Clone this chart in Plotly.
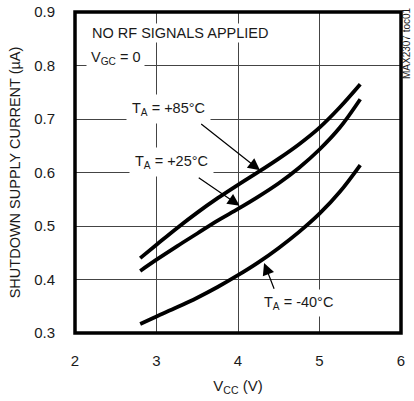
import plotly.graph_objects as go

# Supply voltage (V) sample points
vcc = [2.8, 3.0, 3.25, 3.5, 3.75, 4.0, 4.25, 4.5, 4.75, 5.0, 5.25, 5.5]

# Shutdown supply current (uA) at each ambient temperature
i_85 = [0.440, 0.465, 0.496, 0.525, 0.552, 0.577, 0.601, 0.626, 0.653, 0.684, 0.722, 0.765]
i_25 = [0.416, 0.437, 0.462, 0.486, 0.510, 0.532, 0.555, 0.580, 0.609, 0.643, 0.684, 0.737]
i_m40 = [0.317, 0.331, 0.348, 0.366, 0.386, 0.408, 0.432, 0.459, 0.489, 0.523, 0.564, 0.614]

x_ticks = [2, 3, 4, 5, 6]
y_ticks = [0.3, 0.4, 0.5, 0.6, 0.7, 0.8, 0.9]

FONT = "Liberation Sans, Arial, sans-serif"
INK = "#1a1a1a"

fig = go.Figure()
for ys in (i_85, i_25, i_m40):
    fig.add_trace(go.Scatter(
        x=vcc, y=ys, mode="lines",
        line=dict(color="black", width=3.8, shape="spline", smoothing=1.0),
        showlegend=False, hoverinfo="skip",
    ))

fig.update_layout(
    width=414, height=401,
    margin=dict(l=75, r=13, t=12, b=68),
    paper_bgcolor="white", plot_bgcolor="white",
    font=dict(family=FONT, size=14, color=INK),
    showlegend=False,
    xaxis=dict(
        range=[2, 6], tickvals=x_ticks, ticktext=[str(v) for v in x_ticks],
        showgrid=True, gridcolor="#444", gridwidth=1, zeroline=False,
        ticks="", ticklabelstandoff=17, automargin=False,
        tickfont=dict(size=15),
        title=dict(text="V<sub>CC</sub> (V)", font=dict(size=15), standoff=12),
    ),
    yaxis=dict(
        range=[0.3, 0.9], tickvals=y_ticks, ticktext=[f"{v:.1f}" for v in y_ticks],
        showgrid=True, gridcolor="#444", gridwidth=1, zeroline=False,
        ticks="", ticklabelstandoff=19, automargin=False,
        tickfont=dict(size=15),
        title=dict(text="SHUTDOWN SUPPLY CURRENT (µA)", font=dict(size=14.5), standoff=10),
    ),
)

# Heavy frame around the plotting area
fig.add_shape(type="rect", xref="paper", yref="paper", x0=0, y0=0, x1=1, y1=1,
              line=dict(color="black", width=3.5), layer="above")

labels = [
    dict(x=2.184, y=0.861, text="NO RF SIGNALS APPLIED", xanchor="left", pad=1),
    dict(x=2.13, y=0.814, text="V<sub>GC</sub> = 0", xanchor="left", pad=4),
    dict(x=3.15, y=0.718, text="T<sub>A</sub> = +85°C", xanchor="center", pad=5),
    dict(x=3.18, y=0.619, text="T<sub>A</sub> = +25°C", xanchor="center", pad=5),
    dict(x=4.74, y=0.356, text="T<sub>A</sub> = -40°C", xanchor="center", pad=4),
]
for lb in labels:
    fig.add_annotation(x=lb["x"], y=lb["y"], xref="x", yref="y", text=lb["text"],
                       xanchor=lb["xanchor"], yanchor="middle", showarrow=False,
                       bgcolor="white", borderpad=lb["pad"],
                       font=dict(family=FONT, size=14.5, color=INK))

# Leader arrows from each label to its curve
arrows = [
    dict(tail=(3.53, 0.693), head=(4.27, 0.604)),
    dict(tail=(3.50, 0.592), head=(4.02, 0.538)),
    dict(tail=(4.45, 0.380), head=(4.32, 0.431)),
]
for a in arrows:
    fig.add_annotation(x=a["head"][0], y=a["head"][1], ax=a["tail"][0], ay=a["tail"][1],
                       xref="x", yref="y", axref="x", ayref="y", text="",
                       showarrow=True, arrowhead=2, arrowsize=2.0, arrowwidth=1.2,
                       arrowcolor="black", standoff=0, startstandoff=0)

# Figure ID tag along the right edge
fig.add_annotation(x=1.0, y=1.0, xref="paper", yref="paper", xshift=5, yshift=7,
                   text="MAX2307 toc01", textangle=-90, showarrow=False,
                   xanchor="center", yanchor="top",
                   font=dict(family=FONT, size=10, color=INK))

fig.write_html("out.html")
